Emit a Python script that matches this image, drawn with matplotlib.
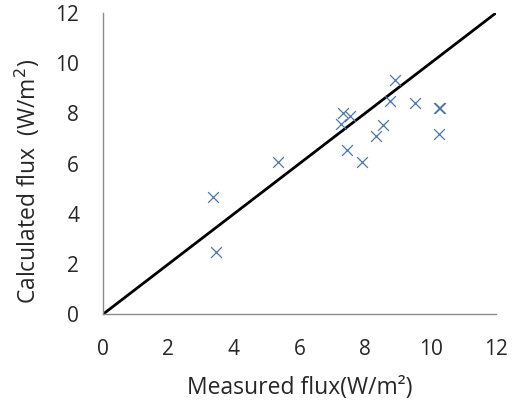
import matplotlib.pyplot as plt

# measured vs calculated flux (W/m²)
measured = [3.35, 3.45, 5.35, 7.34, 7.54, 7.26, 7.44, 7.90, 8.32, 8.55, 8.76, 8.90, 9.53, 10.26, 10.28, 10.26]
calculated = [4.67, 2.47, 6.05, 8.03, 7.90, 7.58, 6.53, 6.05, 7.08, 7.53, 8.50, 9.32, 8.42, 8.23, 8.20, 7.17]
ticks = [0, 2, 4, 6, 8, 10, 12]
line_x = [0, 12]
line_y = [0, 12]

plt.rcParams['font.family'] = ['Open Sans', 'DejaVu Sans']

fig = plt.figure(figsize=(5.19, 4), dpi=100)
ax = fig.add_axes([0.198, 0.214, 0.758, 0.754])

ax.plot(line_x, line_y, color='black', lw=2, solid_capstyle='butt')
ax.scatter(measured, calculated, marker='x', s=60, linewidths=0.9, color='#4f76a8', zorder=3)

ax.set_xlim(0, 12)
ax.set_ylim(0, 12)
ax.set_xticks(ticks)
ax.set_yticks(ticks)
ax.tick_params(length=0, labelsize=15, colors='#262626')
ax.tick_params(axis='x', pad=18)
ax.tick_params(axis='y', pad=17)
for side in ['top', 'right']:
    ax.spines[side].set_visible(False)
for side in ['left', 'bottom']:
    ax.spines[side].set_color('#8c8c8c')
    ax.spines[side].set_linewidth(1)

ax.set_xlabel('Measured flux(W/m²)', fontsize=16.5, color='#262626')
ax.xaxis.set_label_coords(0.5, -0.205)
ax.set_ylabel('Calculated flux  (W/m$^2$)', fontsize=16.5, color='#262626')
ax.yaxis.set_label_coords(-0.155, 0.44)

fig.savefig('out.png', dpi=100)
